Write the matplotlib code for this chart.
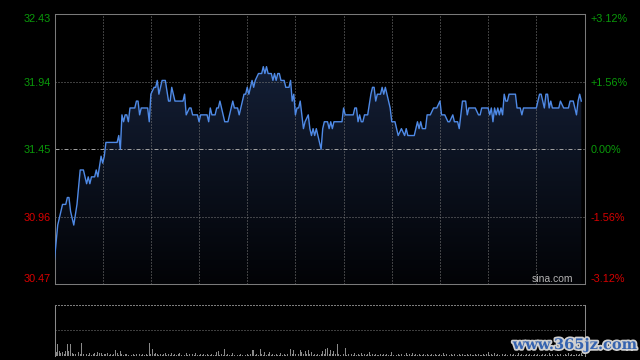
import numpy as np
import matplotlib
matplotlib.use('Agg')
import matplotlib.pyplot as plt
from matplotlib.path import Path
from matplotlib.patches import PathPatch
import matplotlib.patheffects as pe

plt.rcParams['font.family'] = ['Liberation Sans', 'DejaVu Sans']

# ---- data (minute of trading session, price) ----
minutes = [0, 2, 3, 4, 5, 7, 8, 9, 10, 12, 14, 16, 18, 20, 21, 22, 23, 25, 26, 27,
           29, 30, 31, 32, 39, 40, 41, 42, 43, 44, 45, 46, 47, 50, 51, 52, 53, 54, 58, 59,
           60, 62, 63, 64, 65, 67, 69, 71, 72, 73, 75, 80, 81, 82, 84, 85, 86, 89, 90, 91,
           95, 96, 97, 98, 100, 101, 102, 103, 104, 106, 108, 109, 111, 112, 114, 115, 118, 119, 120, 121,
           123, 124, 125, 127, 129, 130, 131, 132, 133, 135, 136, 137, 138, 139, 140, 141, 143, 144, 146, 147,
           148, 149, 150, 151, 152, 153, 155, 156, 158, 159, 160, 161, 162, 163, 164, 166, 167, 168, 170, 171,
           172, 173, 174, 179, 180, 181, 186, 187, 188, 189, 190, 191, 192, 193, 195, 197, 198, 199, 200, 201,
           203, 204, 205, 206, 207, 209, 210, 212, 213, 214, 216, 218, 219, 220, 224, 226, 227, 228, 229, 231,
           232, 234, 236, 238, 240, 241, 243, 245, 246, 248, 249, 251, 252, 254, 256, 257, 258, 262, 264, 265,
           266, 270, 271, 272, 273, 274, 275, 276, 277, 278, 279, 280, 281, 282, 283, 287, 288, 290, 291, 292,
           300, 301, 302, 303, 305, 306, 307, 308, 309, 310, 314, 315, 317, 320, 321, 323, 324, 325, 326, 327,
           328]
prices = [30.65, 30.90, 30.95, 31.00, 31.05, 31.05, 31.10, 31.10, 31.00, 30.90, 31.05, 31.30, 31.30, 31.20, 31.25, 31.20, 31.25, 31.25, 31.30, 31.25,
          31.40, 31.35, 31.40, 31.50, 31.50, 31.55, 31.45, 31.70, 31.65, 31.70, 31.70, 31.65, 31.75, 31.75, 31.80, 31.80, 31.70, 31.75, 31.75, 31.65,
          31.85, 31.90, 31.90, 31.95, 31.85, 31.95, 31.95, 31.80, 31.80, 31.90, 31.80, 31.80, 31.85, 31.70, 31.75, 31.75, 31.70, 31.70, 31.65, 31.70,
          31.70, 31.65, 31.75, 31.70, 31.70, 31.75, 31.75, 31.80, 31.75, 31.65, 31.65, 31.70, 31.80, 31.75, 31.75, 31.70, 31.85, 31.85, 31.90, 31.85,
          31.95, 31.90, 31.95, 32.00, 32.00, 32.05, 32.00, 32.05, 32.00, 32.00, 31.95, 32.00, 31.95, 32.00, 32.00, 31.95, 31.95, 31.90, 31.90, 31.95,
          31.80, 31.85, 31.70, 31.75, 31.75, 31.80, 31.60, 31.65, 31.70, 31.60, 31.55, 31.60, 31.55, 31.60, 31.55, 31.45, 31.60, 31.65, 31.65, 31.60,
          31.65, 31.60, 31.65, 31.65, 31.75, 31.70, 31.70, 31.75, 31.75, 31.65, 31.70, 31.65, 31.65, 31.70, 31.70, 31.85, 31.90, 31.90, 31.80, 31.85,
          31.85, 31.90, 31.85, 31.90, 31.85, 31.75, 31.65, 31.65, 31.60, 31.55, 31.60, 31.55, 31.60, 31.55, 31.55, 31.65, 31.60, 31.65, 31.60, 31.60,
          31.70, 31.70, 31.75, 31.75, 31.80, 31.70, 31.70, 31.65, 31.65, 31.70, 31.65, 31.65, 31.60, 31.80, 31.80, 31.70, 31.75, 31.75, 31.70, 31.70,
          31.75, 31.75, 31.70, 31.75, 31.65, 31.75, 31.70, 31.75, 31.70, 31.75, 31.70, 31.85, 31.80, 31.80, 31.85, 31.85, 31.75, 31.75, 31.70, 31.75,
          31.75, 31.80, 31.85, 31.85, 31.75, 31.85, 31.85, 31.75, 31.80, 31.75, 31.75, 31.80, 31.75, 31.75, 31.80, 31.80, 31.75, 31.70, 31.80, 31.85,
          31.80]

prev_close = 31.45
price_ticks = [30.47, 30.96, 31.45, 31.94, 32.43]
price_labels = ['30.47', '30.96', '31.45', '31.94', '32.43']
pct_labels = ['-3.12%', '-1.56%', '0.00%', '+1.56%', '+3.12%']
session_minutes = 330
grid_step = 30

volume = [1700, 400, 1200, 500, 300, 400, 200, 500, 1200, 500, 1200, 300, 200, 200, 300, 400, 200, 1300, 200, 300, 200, 100, 300, 100, 200, 300, 100, 400, 300, 300,
          100, 200, 200, 300, 100, 200, 100, 200, 600, 300, 100, 500, 200, 100, 200, 200, 100, 200, 100, 200, 100, 200, 700, 200, 100, 200, 100, 200, 100, 1300,
          200, 700, 200, 300, 200, 100, 200, 100, 200, 300, 100, 200, 100, 300, 100, 200, 100, 200, 300, 100, 200, 100, 300, 100, 200, 100, 200, 100, 300, 100,
          100, 200, 100, 200, 100, 200, 100, 100, 200, 100, 100, 400, 500, 100, 200, 100, 700, 100, 200, 100, 100, 300, 100, 200, 100, 100, 200, 100, 600, 100,
          200, 100, 200, 600, 600, 100, 200, 100, 700, 200, 100, 400, 100, 200, 400, 100, 200, 100, 200, 100, 100, 300, 100, 200, 100, 200, 100, 700, 200, 600,
          200, 500, 200, 600, 400, 200, 500, 200, 600, 200, 400, 100, 200, 100, 200, 100, 200, 500, 200, 700, 800, 200, 600, 200, 500, 200, 1200, 200, 100, 700,
          200, 800, 100, 200, 100, 200, 100, 300, 100, 200, 100, 300, 100, 200, 100, 200, 400, 100, 200, 100, 200, 100, 100, 200, 100, 200, 100, 200, 100, 100,
          400, 100, 200, 100, 200, 100, 200, 500, 100, 300, 100, 200, 100, 300, 100, 200, 100, 200, 100, 100, 200, 100, 200, 100, 100, 200, 100, 200, 100, 100,
          200, 100, 300, 100, 200, 100, 100, 200, 100, 200, 100, 100, 200, 100, 200, 100, 100, 200, 100, 200, 100, 100, 200, 100, 200, 100, 100, 200, 100, 200,
          400, 100, 200, 100, 300, 100, 200, 100, 100, 200, 100, 200, 100, 100, 200, 100, 200, 100, 100, 300, 100, 200, 100, 100, 200, 100, 200, 100, 100, 200,
          100, 200, 100, 100, 200, 100, 200, 100, 300, 100, 200, 100, 100, 200, 100, 200, 100, 100, 200, 100, 300, 100, 200, 100, 100, 200, 100, 200, 300, 100]
volume_max = 5050

# ---- styles ----
W, H = 640, 360
GREEN = '#0a9a0a'
RED = '#d80000'
GRID = '#7c7c7c'
LINE = '#4f8ae6'
dot = (0, (1, 2))

fig = plt.figure(figsize=(W / 100, H / 100), dpi=100, facecolor='black')

ax = fig.add_axes([54.5 / W, 1 - 284.3 / H, 530 / W, 270 / H])
ax.set_facecolor('black')
ymin, ymax = price_ticks[0], price_ticks[-1]

# gradient fill under the price line
verts = [(minutes[0], ymin)] + list(zip(minutes, prices)) + [(minutes[-1], ymin)]
clip = PathPatch(Path(verts), facecolor='none', edgecolor='none')
ax.add_patch(clip)
frac = np.linspace(0, 1, 256)[:, None]
top_c = np.array([24, 37, 64]) / 255.0
bot_c = np.array([2, 3, 6]) / 255.0
grad = bot_c[None, None, :] + (top_c - bot_c)[None, None, :] * frac[:, :, None]
im = ax.imshow(grad, extent=[0, session_minutes, ymin, ymax], origin='lower',
               aspect='auto', interpolation='bilinear', zorder=1)
im.set_clip_path(clip)

ax.plot(minutes, prices, color=LINE, lw=1.0, zorder=4)

for m in range(grid_step, session_minutes, grid_step):
    ax.axvline(m, color=GRID, lw=0.72, ls=dot, zorder=2)
for v in price_ticks[1:-1]:
    if v == prev_close:
        ax.axhline(v, color='#a0a0a0', lw=0.72, ls=(0, (4, 2, 1, 2)), zorder=2)
    else:
        ax.axhline(v, color=GRID, lw=0.72, ls=dot, zorder=2)

ax.set_xlim(0, session_minutes)
ax.set_ylim(ymin, ymax)
ax.set_xticks([])
for s in ax.spines.values():
    s.set_color('#7a7a7a')
    s.set_linewidth(0.75)

def colour(v):
    return GREEN if v >= prev_close else RED

ax.set_yticks(price_ticks)
ax.set_yticklabels(price_labels)
ax.tick_params(axis='y', length=0, pad=2.5, labelsize=7.8)
for t, v in zip(ax.yaxis.get_major_ticks(), price_ticks):
    t.label1.set_color(colour(v))
ax.yaxis.get_major_ticks()[0].label1.set_va('bottom')
ax.yaxis.get_major_ticks()[-1].label1.set_va('top')

ax2 = ax.twinx()
ax2.set_ylim(ymin, ymax)
ax2.set_yticks(price_ticks)
ax2.set_yticklabels(pct_labels)
ax2.tick_params(axis='y', length=0, pad=4.5, labelsize=7.8)
for t, v in zip(ax2.yaxis.get_major_ticks(), price_ticks):
    t.label2.set_color(colour(v))
ax2.yaxis.get_major_ticks()[0].label2.set_va('bottom')
ax2.yaxis.get_major_ticks()[-1].label2.set_va('top')
for s in ax2.spines.values():
    s.set_visible(False)

ax.text(0.979, 0.0185, 'sina.com', transform=ax.transAxes, ha='right', va='center',
        color='#b4b4b4', fontsize=7.5, zorder=5)

# ---- volume panel ----
vax = fig.add_axes([54.5 / W, 1 - 355.5 / H, 530 / W, 50.5 / H])
vax.set_facecolor('black')
vax.bar(range(len(volume)), volume, width=0.6, color='#8a8a8a', linewidth=0)
vax.set_xlim(0, session_minutes)
vax.set_ylim(0, volume_max)
vax.axhline(volume_max / 2, color=GRID, lw=0.72, ls=dot)
vax.set_xticks([])
vax.set_yticks([])
for k in ('left', 'right'):
    vax.spines[k].set_color('#8a8a8a')
    vax.spines[k].set_linewidth(0.75)
vax.spines['top'].set_color(GRID)
vax.spines['top'].set_linewidth(0.72)
vax.spines['top'].set_linestyle(dot)
vax.spines['bottom'].set_visible(False)

fig.text(575 / W, 1 - 345 / H, 'www.365jz.com', ha='center', va='center',
         fontsize=10.5, family='DejaVu Serif', weight='bold', color='#3563b0',
         path_effects=[pe.withStroke(linewidth=2.5, foreground='#d0d0d0')])

fig.savefig('out.png', dpi=100, facecolor='black')
